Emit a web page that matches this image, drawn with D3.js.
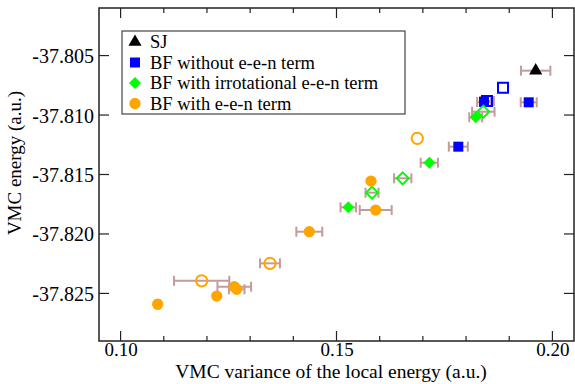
<!DOCTYPE html>
<html><head><meta charset="utf-8">
<script src="https://cdn.jsdelivr.net/npm/d3@7"></script>
<style>body{margin:0;background:#fff}svg{display:block}text{font-family:"Liberation Serif","Tinos","Times New Roman","DejaVu Serif",serif}</style>
</head><body>
<svg id="c" width="575" height="384"></svg>
<script>
// Data: [variance, energy, variance error]
const sjData = [[0.19613, -37.80627, 0.0034]];
const bfNoFilled = [[0.18416, -37.80890, 0.0016], [0.19451, -37.80893, 0.00185], [0.17821, -37.81266, 0.0022]];
const bfNoOpen = [[0.18856, -37.80770, 0], [0.18485, -37.80882, 0.0016]];
const irrFilled = [[0.18224, -37.81019, 0.0015], [0.17149, -37.81401, 0.0020], [0.15273, -37.81776, 0.0018]];
const irrOpen = [[0.18400, -37.80972, 0.0026], [0.16533, -37.81532, 0.0020], [0.15822, -37.81653, 0.0015]];
const eenFilled = [[0.15799, -37.81555, 0.0003], [0.15908, -37.81799, 0.0037], [0.14370, -37.81981, 0.0030],
  [0.12633, -37.82443, 0.0039], [0.12689, -37.82465, 0.0018], [0.12226, -37.82522, 0.0003], [0.10859, -37.82591, 0.0005]];
const eenOpen = [[0.16871, -37.81196, 0], [0.13460, -37.82247, 0.0023], [0.11878, -37.82394, 0.0064]];
const xTicks = [0.10, 0.15, 0.20];
const xMinor = [0.11, 0.12, 0.13, 0.14, 0.16, 0.17, 0.18, 0.19];
const yTicks = [-37.805, -37.810, -37.815, -37.820, -37.825];
const legendLabels = ["SJ", "BF without e-e-n term", "BF with irrotational e-e-n term", "BF with e-e-n term"];

const FONT = '"Liberation Serif","Tinos","Times New Roman","DejaVu Serif",serif';
const L = 99, R = 574, T = 8, B = 341;
const x = d3.scaleLinear().domain([0.095, 0.205]).range([L, R]);
const y = d3.scaleLinear().domain([-37.829, -37.801]).range([B, T]);
const svg = d3.select("#c");
const hy = f => v => f(v).replace("\u2212", "-");

// axes (ticks inward)
const ax = svg.append("g");
const axB = d3.axisBottom(x).tickValues(xTicks).tickFormat(hy(d3.format(".2f"))).tickSize(0).tickPadding(0);
const axL = d3.axisLeft(y).tickValues(yTicks).tickFormat(hy(d3.format(".3f"))).tickSize(0).tickPadding(5);
const gb = ax.append("g").attr("transform", `translate(0,${B})`).call(axB);
const gl = ax.append("g").attr("transform", `translate(${L},0)`).call(axL);
[gb, gl].forEach(g => { g.attr("font-family", FONT).attr("font-size", 20); g.select(".domain").remove(); g.selectAll("text").attr("fill", "#000"); });
gb.attr("font-size", 19);
gl.selectAll("text").attr("dy", "0.35em");
gb.selectAll("text").attr("y", 15).attr("dy", 0);

const tk = svg.append("g").attr("stroke", "#222").attr("stroke-width", 1.2);
xTicks.forEach(v => {
  tk.append("line").attr("x1", x(v)).attr("x2", x(v)).attr("y1", B).attr("y2", B - 10);
  tk.append("line").attr("x1", x(v)).attr("x2", x(v)).attr("y1", T).attr("y2", T + 10);
});
xMinor.forEach(v => {
  tk.append("line").attr("x1", x(v)).attr("x2", x(v)).attr("y1", B).attr("y2", B - 5);
  tk.append("line").attr("x1", x(v)).attr("x2", x(v)).attr("y1", T).attr("y2", T + 5);
});
yTicks.forEach(v => {
  tk.append("line").attr("x1", L).attr("x2", L + 10).attr("y1", y(v)).attr("y2", y(v));
  tk.append("line").attr("x1", R).attr("x2", R - 10).attr("y1", y(v)).attr("y2", y(v));
});
svg.append("rect").attr("x", L).attr("y", T).attr("width", R - L).attr("height", B - T)
  .attr("fill", "none").attr("stroke", "#222").attr("stroke-width", 1.5);

// axis titles
svg.append("text").attr("x", 331).attr("y", 378).attr("text-anchor", "middle").attr("font-size", 19.5).attr("font-family", FONT).text("VMC variance of the local energy (a.u.)");
svg.append("text").attr("transform", "translate(21,163) rotate(-90)").attr("text-anchor", "middle").attr("font-size", 19).attr("font-family", FONT).text("VMC energy (a.u.)");

// error bars
const ebColor = "#c49a9a";
const eb = svg.append("g").attr("stroke", ebColor).attr("stroke-width", 2);
[sjData, bfNoFilled, bfNoOpen, irrFilled, irrOpen, eenFilled, eenOpen].forEach(ds => ds.forEach(d => {
  if (d[2] <= 0) return;
  const x0 = x(d[0] - d[2]), x1 = x(d[0] + d[2]), yy = y(d[1]);
  eb.append("line").attr("x1", x0).attr("x2", x1).attr("y1", yy).attr("y2", yy);
  eb.append("line").attr("x1", x0).attr("x2", x0).attr("y1", yy - 5).attr("y2", yy + 5);
  eb.append("line").attr("x1", x1).attr("x2", x1).attr("y1", yy - 5).attr("y2", yy + 5);
}));

// symbols
const sym = {
  tri: d3.symbol().type(d3.symbolTriangle).size(75),
  sq: d3.symbol().type(d3.symbolSquare).size(100),
  dia: d3.symbol().type(d3.symbolSquare).size(72),
  cir: d3.symbol().type(d3.symbolCircle).size(100)
};
const rot = { tri: 0, sq: 0, dia: 45, cir: 0 };
function draw(ds, key, color, filled) {
  svg.append("g").selectAll("path").data(ds).join("path")
    .attr("d", sym[key])
    .attr("transform", d => `translate(${x(d[0])},${y(d[1])}) rotate(${rot[key]})`)
    .attr("fill", filled ? color : "none")
    .attr("stroke", color).attr("stroke-width", filled ? 0 : 2);
}
draw(sjData, "tri", "#000", true);
draw(bfNoOpen, "sq", "#0000ff", false);
draw(bfNoFilled, "sq", "#0000ff", true);
draw(irrOpen, "dia", "#00ff00", false);
draw(irrFilled, "dia", "#00ff00", true);
draw(eenOpen, "cir", "#ffa500", false);
draw(eenFilled, "cir", "#ffa500", true);

// legend
const lg = svg.append("g");
lg.append("rect").attr("x", 122).attr("y", 31).attr("width", 283).attr("height", 83)
  .attr("fill", "#fff").attr("stroke", "#444").attr("stroke-width", 1.2);
const lKeys = [["tri", "#000"], ["sq", "#0000ff"], ["dia", "#00ff00"], ["cir", "#ffa500"]];
legendLabels.forEach((t, i) => {
  const yy = 42 + i * 20.5;
  lg.append("path").attr("d", sym[lKeys[i][0]]).attr("transform", `translate(135,${yy}) rotate(${rot[lKeys[i][0]]})`).attr("fill", lKeys[i][1]);
  lg.append("text").attr("x", 150).attr("y", yy).attr("dy", "0.35em").attr("font-size", 18.5).attr("font-family", FONT).text(t);
});
</script>
</body></html>
